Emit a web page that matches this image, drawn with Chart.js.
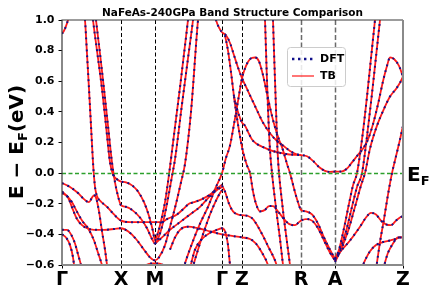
<!DOCTYPE html>
<html>
<head>
<meta charset="utf-8">
<script src="https://cdn.jsdelivr.net/npm/chart.js@4.4.1/dist/chart.umd.min.js"></script>
<style>
  html, body { margin: 0; padding: 0; background: #fff; }
</style>
</head>
<body>
<canvas id="bands" width="436" height="300"></canvas>
<script>
// high-symmetry path (k in path units) and labels
const kTicks = [0, 59, 93, 160, 180, 239, 273, 341];
const kLabels = ['Γ', 'X', 'M', 'Γ', 'Z', 'R', 'A', 'Z'];
const eTicks = [-0.6, -0.4, -0.2, 0.0, 0.2, 0.4, 0.6, 0.8, 1.0];
const greyLines = ['R', 'A'];

// bands: [k, E - EF]
const b1 = [[0, 0.91], [2, 0.93], [4, 0.96], [6, 1.0], [8, 1.06]];
const b2 = [[21, 1.12], [23, 1.0], [25, 0.78], [27, 0.55], [29, 0.31], [31, 0.07], [33, -0.09], [35, -0.15], [38, -0.18], [45, -0.22], [52, -0.27], [59, -0.31], [68, -0.32], [80, -0.32], [93, -0.32], [100, -0.32], [105, -0.3], [115, -0.27], [122, -0.23], [127, -0.2], [132, -0.19], [140, -0.17], [148, -0.14], [155, -0.1], [160, -0.075]];
const b3 = [[29, 1.12], [31, 1.0], [35, 0.8], [40, 0.55], [44, 0.31], [48, 0.07], [51, -0.01], [55, -0.04], [59, -0.055], [64, -0.06], [70, -0.08], [76, -0.12], [82, -0.19], [87, -0.28], [91, -0.38], [93, -0.44], [95, -0.41], [98, -0.34], [103, -0.19], [107, -0.01], [112, 0.25], [118, 0.56], [126, 1.0], [128, 1.12]];
const b4 = [[32, 1.12], [34, 1.0], [38, 0.78], [42, 0.55], [46, 0.31], [50, 0.07], [53, -0.06], [56, -0.15], [59, -0.21], [64, -0.22], [70, -0.24], [78, -0.29], [85, -0.36], [90, -0.43], [93, -0.46], [96, -0.43], [100, -0.35], [105, -0.2], [110, -0.02], [113, 0.09], [120, 0.45], [126, 0.75], [131, 1.0], [133, 1.12]];
const b5 = [[0, -0.065], [8, -0.09], [16, -0.13], [22, -0.17], [27, -0.19], [30, -0.16], [32, -0.145], [34, -0.16], [37, -0.25], [40, -0.38], [43, -0.5], [46, -0.65]];
const b6 = [[0, -0.12], [6, -0.16], [11, -0.24], [15, -0.3], [20, -0.34], [25, -0.36], [32, -0.37], [42, -0.37], [52, -0.365], [59, -0.36], [66, -0.38], [74, -0.43], [82, -0.5], [88, -0.55], [93, -0.57], [97, -0.55], [103, -0.47], [108, -0.35], [114, -0.2], [119, -0.06], [123, 0.06], [129, 0.4], [136, 1.0], [138, 1.12]];
const b7 = [[0, -0.13], [5, -0.15], [10, -0.19], [14, -0.24], [20, -0.31], [26, -0.36], [32, -0.44], [36, -0.52], [40, -0.6], [42, -0.65]];
const b8 = [[0, -0.37], [5, -0.37], [9, -0.4], [13, -0.46], [16, -0.53], [19, -0.6], [21, -0.65]];
const b9 = [[0, -0.4], [4, -0.42], [8, -0.47], [11, -0.55], [13, -0.65]];
const b10 = [[93, -0.46], [100, -0.42], [108, -0.37], [118, -0.32], [128, -0.27], [138, -0.22], [148, -0.15], [155, -0.11], [160, -0.09]];
const m1 = [[78, -0.63], [84, -0.6], [90, -0.59], [96, -0.59], [101, -0.6], [105, -0.63]];
const m2 = [[130, -0.63], [136, -0.5], [142, -0.38], [148, -0.27], [154, -0.18], [158, -0.13], [160, -0.11]];
const p1 = [[121, -0.63], [125, -0.55], [130, -0.46], [138, -0.33], [146, -0.22], [154, -0.09], [160, 0.0], [164, 0.1], [168, 0.18], [172, 0.32], [176, 0.47], [180, 0.62], [184, 0.7], [188, 0.745], [193, 0.755], [197, 0.73], [201, 0.64], [205, 0.52], [209, 0.4], [213, 0.3], [217, 0.22], [221, 0.15], [225, 0.06], [228, 0.0], [232, -0.1], [236, -0.19], [239, -0.24], [244, -0.25], [250, -0.27], [256, -0.33], [262, -0.42], [268, -0.5], [273, -0.56]];
const t1 = [[150, 1.12], [154, 1.0], [157, 0.95], [160, 0.92], [164, 0.9], [168, 0.85], [172, 0.77], [176, 0.69], [180, 0.62], [185, 0.55], [190, 0.48], [195, 0.41], [201, 0.33], [208, 0.26], [215, 0.21], [221, 0.18], [228, 0.145], [234, 0.125], [239, 0.118], [245, 0.11], [251, 0.08], [257, 0.04], [263, 0.015], [268, 0.008], [273, 0.01], [279, 0.01], [285, 0.03], [290, 0.07], [296, 0.12], [301, 0.16], [306, 0.22], [311, 0.32], [316, 0.45], [321, 0.6], [325, 0.7], [328, 0.755], [332, 0.745], [337, 0.7], [341, 0.63]];
const t2 = [[163, 0.9], [166, 0.8], [169, 0.66], [172, 0.5], [175, 0.36], [178, 0.24], [181, 0.14], [185, 0.05], [188, 0.0], [191, -0.12], [194, -0.2], [198, -0.25], [203, -0.24], [207, -0.215], [211, -0.215], [216, -0.25], [222, -0.3], [228, -0.335], [233, -0.34], [237, -0.32], [239, -0.31], [244, -0.3], [250, -0.31], [256, -0.36], [262, -0.44], [268, -0.52], [273, -0.57]];
const t3 = [[172, 0.5], [175, 0.42], [178, 0.36], [180, 0.33], [183, 0.31], [186, 0.27], [190, 0.22], [195, 0.19], [201, 0.17], [208, 0.15], [216, 0.135], [224, 0.125], [232, 0.12], [239, 0.118]];
const s1 = [[202, 1.12], [203, 1.0], [204.5, 0.7], [206, 0.42], [208, 0.15], [210, 0.0], [212, -0.12], [215, -0.28], [218, -0.43], [221, -0.6], [222, -0.65]];
const s2 = [[210.5, 1.12], [211, 1.0], [212.5, 0.7], [214, 0.42], [215.5, 0.15], [217, 0.0], [219, -0.13], [222, -0.3], [225, -0.45], [228, -0.6], [229, -0.65]];
const z1 = [[160, -0.08], [163, -0.12], [167, -0.2], [171, -0.25], [176, -0.27], [180, -0.275], [186, -0.28], [191, -0.3], [196, -0.35], [201, -0.41], [207, -0.49], [213, -0.57], [216, -0.63]];
const z2 = [[128, -0.62], [133, -0.5], [140, -0.43], [148, -0.39], [155, -0.37], [160, -0.36], [163, -0.38], [166, -0.47], [168, -0.6], [169, -0.65]];
const z3 = [[108, -0.5], [113, -0.42], [118, -0.37], [126, -0.35], [136, -0.36], [148, -0.38], [160, -0.4], [170, -0.41], [180, -0.42], [188, -0.43], [194, -0.46], [200, -0.52], [206, -0.6], [208, -0.65]];
const a2 = [[273, -0.56], [277, -0.5], [282, -0.36], [287, -0.2], [291, -0.08], [295, 0.0], [300, 0.22], [305, 0.5], [309, 0.75], [313, 1.0], [315, 1.12]];
const a3 = [[273, -0.57], [278, -0.5], [284, -0.38], [290, -0.22], [295, -0.09], [300, 0.0], [305, 0.24], [310, 0.52], [314, 0.76], [318, 1.0], [320, 1.12]];
const a4 = [[273, -0.58], [279, -0.5], [286, -0.38], [293, -0.22], [299, -0.08], [303, 0.0], [308, 0.16], [315, 0.31], [322, 0.42], [328, 0.5], [334, 0.55], [338, 0.59], [341, 0.63]];
const a5 = [[314, -0.63], [318, -0.45], [322, -0.3], [326, -0.14], [330, 0.0], [334, 0.11], [338, 0.22], [341, 0.31]];
const a6 = [[273, -0.56], [280, -0.5], [288, -0.44], [298, -0.35], [304, -0.29], [309, -0.26], [314, -0.27], [319, -0.31], [324, -0.335], [329, -0.34], [334, -0.31], [338, -0.29], [341, -0.28]];
const a7 = [[299, -0.63], [303, -0.57], [308, -0.51], [314, -0.47], [321, -0.45], [328, -0.44], [334, -0.43], [338, -0.42], [341, -0.42]];
const a8 = [[321, -0.63], [326, -0.52], [331, -0.46], [336, -0.42], [341, -0.42]];

const bands = [b1, b2, b3, b4, b5, b6, b7, b8, b9, b10, m1, m2, p1, t1, t2, t3, s1, s2, z1, z2, z3, a2, a3, a4, a5, a6, a7, a8];

const FONT = 'DejaVu Sans';
const DFT_COLOR = '#10108a';
const TB_COLOR = '#ff1a1a';
const dftDash = [1.8, 4.2];

const datasets = [];
bands.forEach((band) => {
  const pts = band.map(([k, e]) => ({ x: k, y: e }));
  // TB solid red underneath, DFT dotted navy on top
  datasets.push({
    label: 'TB', data: pts, borderColor: TB_COLOR, borderWidth: 1.8,
    pointRadius: 0, cubicInterpolationMode: 'monotone', order: 1
  });
  datasets.push({
    label: 'DFT', data: pts, borderColor: DFT_COLOR, borderWidth: 2,
    borderDash: dftDash, borderCapStyle: 'butt',
    pointRadius: 0, cubicInterpolationMode: 'monotone', order: 0
  });
});

const decor = {
  id: 'decor',
  beforeDatasetsDraw(chart) {
    const { ctx, chartArea: a, scales: { x } } = chart;
    ctx.save();
    kTicks.forEach((k, i) => {
      if (i === 0 || i === kTicks.length - 1) return;
      const grey = greyLines.includes(kLabels[i]);
      const px = Math.round(x.getPixelForValue(k)) + 0.5;
      ctx.strokeStyle = grey ? '#6a6a6a' : '#000';
      ctx.lineWidth = grey ? 1.5 : 1;
      ctx.setLineDash(grey ? [5, 2.5] : [4, 2.5]);
      ctx.beginPath();
      ctx.moveTo(px, a.top);
      ctx.lineTo(px, a.bottom);
      ctx.stroke();
    });
    ctx.restore();
  },
  afterDatasetsDraw(chart) {
    // Fermi level
    const { ctx, chartArea: a, scales: { y } } = chart;
    const py = Math.round(y.getPixelForValue(0)) + 0.5;
    ctx.save();
    ctx.strokeStyle = '#2ca02c';
    ctx.lineWidth = 1.3;
    ctx.setLineDash([4, 2.5]);
    ctx.beginPath();
    ctx.moveTo(a.left, py);
    ctx.lineTo(a.right, py);
    ctx.stroke();
    ctx.restore();
  },
  afterDraw(chart) {
    const { ctx, chartArea: a, scales: { y } } = chart;
    ctx.save();
    // frame
    ctx.setLineDash([]);
    ctx.strokeStyle = '#3a3a3a';
    ctx.lineWidth = 1.2;
    ctx.beginPath();
    ctx.moveTo(a.left, a.bottom);
    ctx.lineTo(a.left, a.top);
    ctx.lineTo(a.right, a.top);
    ctx.stroke();
    ctx.strokeStyle = '#8a8a8a';
    ctx.lineWidth = 2;
    ctx.beginPath();
    ctx.moveTo(a.right, a.top);
    ctx.lineTo(a.right, a.bottom);
    ctx.lineTo(a.left, a.bottom);
    ctx.stroke();

    // title
    ctx.fillStyle = '#000';
    ctx.textAlign = 'center';
    ctx.textBaseline = 'alphabetic';
    ctx.font = `bold 10.5px "${FONT}"`;
    ctx.fillText('NaFeAs-240GPa Band Structure Comparison', (a.left + a.right) / 2, 16);

    // y axis title: E − E_F(eV), rotated
    const big = `bold 20px "${FONT}"`;
    const sub = `bold 13px "${FONT}"`;
    const parts = [['E − E', big, 0], ['F', sub, 4], ['(eV)', big, 0]];
    let total = 0;
    parts.forEach(([t, f]) => { ctx.font = f; total += ctx.measureText(t).width; });
    ctx.translate(0, 142);
    ctx.rotate(-Math.PI / 2);
    ctx.textAlign = 'left';
    let u = -total / 2;
    parts.forEach(([t, f, dy]) => {
      ctx.font = f;
      ctx.fillText(t, u, 23 + dy);
      u += ctx.measureText(t).width;
    });
    ctx.setTransform(1, 0, 0, 1, 0, 0);

    // E_F label at the right
    const ey = y.getPixelForValue(0);
    ctx.textAlign = 'left';
    ctx.font = big;
    ctx.fillText('E', a.right + 4, ey + 8);
    const ew = ctx.measureText('E').width;
    ctx.font = sub;
    ctx.fillText('F', a.right + 4 + ew, ey + 12);

    // legend
    const lx = 287, ly = 47, lw = 58, lh = 39;
    ctx.fillStyle = 'rgba(255,255,255,0.85)';
    ctx.strokeStyle = '#cccccc';
    ctx.lineWidth = 1;
    ctx.beginPath();
    ctx.roundRect(lx + 0.5, ly + 0.5, lw, lh, 3);
    ctx.fill();
    ctx.stroke();
    ctx.lineWidth = 2.4;
    ctx.strokeStyle = DFT_COLOR;
    ctx.setLineDash([2.4, 3.6]);
    ctx.beginPath();
    ctx.moveTo(lx + 5, ly + 12);
    ctx.lineTo(lx + 27, ly + 12);
    ctx.stroke();
    ctx.setLineDash([]);
    ctx.lineWidth = 1.2;
    ctx.strokeStyle = TB_COLOR;
    ctx.beginPath();
    ctx.moveTo(lx + 5, ly + 29);
    ctx.lineTo(lx + 27, ly + 29);
    ctx.stroke();
    ctx.fillStyle = '#000';
    ctx.font = `bold 11px "${FONT}"`;
    ctx.textBaseline = 'middle';
    ctx.fillText('DFT', lx + 33, ly + 12.5);
    ctx.fillText('TB', lx + 33, ly + 29.5);
    ctx.restore();
  }
};

new Chart(document.getElementById('bands'), {
  type: 'line',
  data: { datasets },
  options: {
    responsive: false,
    animation: false,
    devicePixelRatio: 1,
    layout: { padding: { left: 0, right: 33, top: 20, bottom: 0 } },
    plugins: { legend: { display: false }, tooltip: { enabled: false } },
    scales: {
      x: {
        type: 'linear', min: 0, max: 341,
        afterBuildTicks: (s) => { s.ticks = kTicks.map((v) => ({ value: v })); },
        afterFit: (s) => { s.height = 35; },
        ticks: {
          autoSkip: false, maxRotation: 0, padding: 0, color: '#000',
          font: { family: FONT, size: 19, weight: 'bold' },
          callback: (v, i) => kLabels[i]
        },
        grid: { drawOnChartArea: false, tickLength: 3.5, color: '#000' },
        border: { display: false }
      },
      y: {
        min: -0.6, max: 1.0,
        afterBuildTicks: (s) => { s.ticks = eTicks.map((v) => ({ value: v })); },
        afterFit: (s) => { s.width = 62; },
        ticks: {
          autoSkip: false, padding: 4, color: '#000',
          font: { family: FONT, size: 11, weight: 'bold' },
          callback: (v) => (Math.abs(v) < 1e-9 ? '0.0' : (v < 0 ? '−' : '') + Math.abs(v).toFixed(1))
        },
        grid: { drawOnChartArea: false, tickLength: 3.5, color: '#000' },
        border: { display: false }
      }
    }
  },
  plugins: [decor]
});
</script>
</body>
</html>
